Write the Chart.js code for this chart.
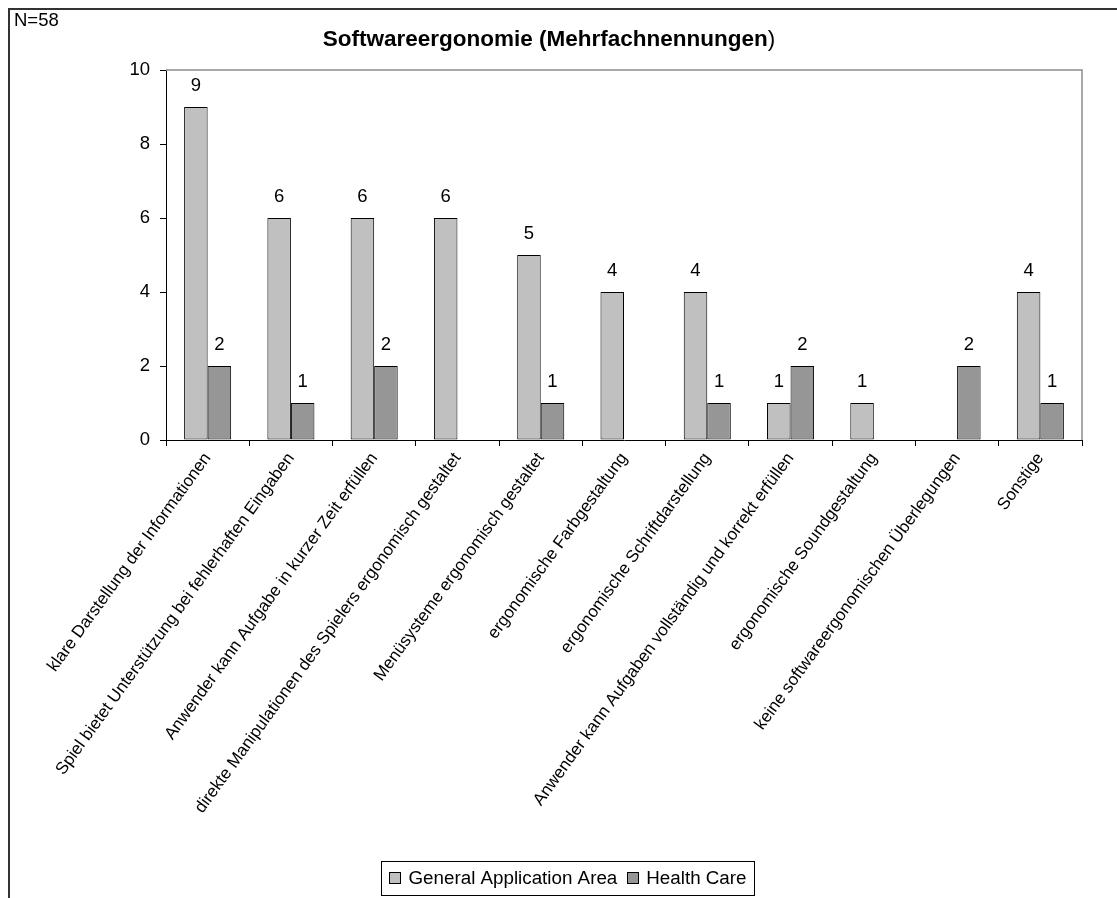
<!DOCTYPE html>
<html>
<head>
<meta charset="utf-8">
<script src="https://cdn.jsdelivr.net/npm/chart.js@4/dist/chart.umd.min.js"></script>
<style>
  html, body { margin: 0; padding: 0; background: #ffffff; }
  #wrap { width: 1117px; height: 898px; position: relative; }
</style>
</head>
<body>
<div id="wrap"><canvas id="c" width="1117" height="898"></canvas></div>
<script>
// Categories (x axis)
const categories = [
  'klare Darstellung der Informationen',
  'Spiel bietet Unterstützung bei fehlerhaften Eingaben',
  'Anwender kann Aufgabe in kurzer Zeit erfüllen',
  'direkte Manipulationen des Spielers ergonomisch gestaltet',
  'Menüsysteme ergonomisch gestaltet',
  'ergonomische Farbgestaltung',
  'ergonomische Schriftdarstellung',
  'Anwender kann Aufgaben vollständig und korrekt erfüllen',
  'ergonomische Soundgestaltung',
  'keine softwareergonomischen Überlegungen',
  'Sonstige'
];

// Series values (number of mentions)
const generalApplicationArea = [9, 6, 6, 6, 5, 4, 4, 1, 1, 0, 4];
const healthCare            = [2, 1, 2, 0, 1, 0, 1, 2, 0, 2, 1];

// Series names and axis ticks
const seriesNames = ['General Application Area', 'Health Care'];
const yTicks = [0, 2, 4, 6, 8, 10];

// Texts
const chartTitleMain = 'Softwareergonomie (Mehrfachnennungen';
const chartTitleEnd = ')';
const sampleNote = 'N=58';

const FONT = '"Liberation Sans", Arial, Helvetica, sans-serif';
const COLORS = ['#c0c0c0', '#969696'];

// Frame, plot-area outline, title, note, legend and value labels
const decorations = {
  id: 'decorations',
  beforeDraw(chart) {
    const ctx = chart.ctx;
    ctx.save();
    ctx.fillStyle = '#ffffff';
    ctx.fillRect(0, 0, chart.width, chart.height);
    // outer frame (top and left edges)
    ctx.strokeStyle = '#333333';
    ctx.lineWidth = 2;
    ctx.beginPath();
    ctx.moveTo(9, chart.height);
    ctx.lineTo(9, 9);
    ctx.lineTo(chart.width, 9);
    ctx.stroke();
    ctx.restore();
  },
  afterDatasetsDraw(chart) {
    const ctx = chart.ctx;
    const a = chart.chartArea;
    ctx.save();
    // plot area outline (top and right)
    ctx.strokeStyle = '#8c8c8c';
    ctx.lineWidth = 1.5;
    ctx.beginPath();
    ctx.moveTo(a.left, a.top);
    ctx.lineTo(a.right, a.top);
    ctx.lineTo(a.right, a.bottom);
    ctx.stroke();

    // value labels above bars
    ctx.fillStyle = '#000000';
    ctx.font = '18.5px ' + FONT;
    ctx.textAlign = 'center';
    ctx.textBaseline = 'middle';
    chart.data.datasets.forEach((ds, di) => {
      const meta = chart.getDatasetMeta(di);
      meta.data.forEach((bar, i) => {
        const v = ds.data[i];
        if (v > 0) ctx.fillText(String(v), bar.x, bar.y - 21);
      });
    });

    // title (closing bracket in regular weight)
    ctx.textAlign = 'left';
    const boldFont = 'bold 22.5px ' + FONT;
    const regFont = '22.5px ' + FONT;
    ctx.font = boldFont;
    const wMain = ctx.measureText(chartTitleMain).width;
    ctx.font = regFont;
    const wEnd = ctx.measureText(chartTitleEnd).width;
    const tx = 549 - (wMain + wEnd) / 2;
    ctx.font = boldFont;
    ctx.fillText(chartTitleMain, tx, 40);
    ctx.font = regFont;
    ctx.fillText(chartTitleEnd, tx + wMain, 40);

    // sample size note
    ctx.font = '18.5px ' + FONT;
    ctx.fillText(sampleNote, 14, 21);

    // legend
    ctx.font = '18.8px ' + FONT;
    const ly = 878;
    const parts = chart.data.datasets.map(ds => ({
      label: ds.label, color: ds.backgroundColor,
      w: ctx.measureText(ds.label).width
    }));
    const box = 11, gap = 8, sep = 10, padX = 8;
    let total = 0;
    parts.forEach((p, i) => { total += box + gap + p.w + (i < parts.length - 1 ? sep : 0); });
    const legendW = total + padX * 2;
    const lx = 568 - legendW / 2;
    ctx.strokeStyle = '#000000';
    ctx.lineWidth = 1;
    ctx.strokeRect(Math.round(lx) + 0.5, 861.5, Math.round(legendW), 34);
    let x = lx + padX;
    parts.forEach(p => {
      ctx.fillStyle = p.color;
      ctx.fillRect(Math.round(x) + 0.5, ly - 5.5, box, box);
      ctx.strokeStyle = '#000000';
      ctx.strokeRect(Math.round(x) + 0.5, ly - 5.5, box, box);
      x += box + gap;
      ctx.fillStyle = '#000000';
      ctx.fillText(p.label, x, ly + 1);
      x += p.w + sep;
    });
    ctx.restore();
  }
};

new Chart(document.getElementById('c'), {
  type: 'bar',
  data: {
    labels: categories,
    datasets: [
      { label: seriesNames[0], data: generalApplicationArea, backgroundColor: COLORS[0],
        borderColor: '#000000', borderWidth: 1, borderSkipped: false },
      { label: seriesNames[1], data: healthCare, backgroundColor: COLORS[1],
        borderColor: '#000000', borderWidth: 1, borderSkipped: false }
    ]
  },
  options: {
    responsive: false,
    animation: false,
    devicePixelRatio: 1,
    datasets: { bar: { categoryPercentage: 0.565, barPercentage: 1.0 } },
    layout: { padding: { left: 0, top: 70, right: 35, bottom: 0 } },
    plugins: {
      legend: { display: false },
      title: { display: false },
      tooltip: { enabled: false }
    },
    scales: {
      x: {
        afterFit(scale) { scale.height = 458; },
        grid: { drawOnChartArea: false, drawTicks: true, tickLength: 6, color: '#000000', offset: true },
        border: { display: true, color: '#000000', width: 1 },
        ticks: {
          autoSkip: false, minRotation: 54, maxRotation: 54, padding: 3,
          color: '#000000', font: { family: FONT, size: 17 }
        }
      },
      y: {
        min: 0, max: 10,
        afterFit(scale) { scale.width = 166; },
        afterBuildTicks(scale) { scale.ticks = yTicks.map(v => ({ value: v })); },
        grid: { drawOnChartArea: false, drawTicks: true, tickLength: 6, color: '#000000' },
        border: { display: true, color: '#000000', width: 1 },
        ticks: { padding: 10, color: '#000000', font: { family: FONT, size: 18.5 } }
      }
    }
  },
  plugins: [decorations]
});
</script>
</body>
</html>
